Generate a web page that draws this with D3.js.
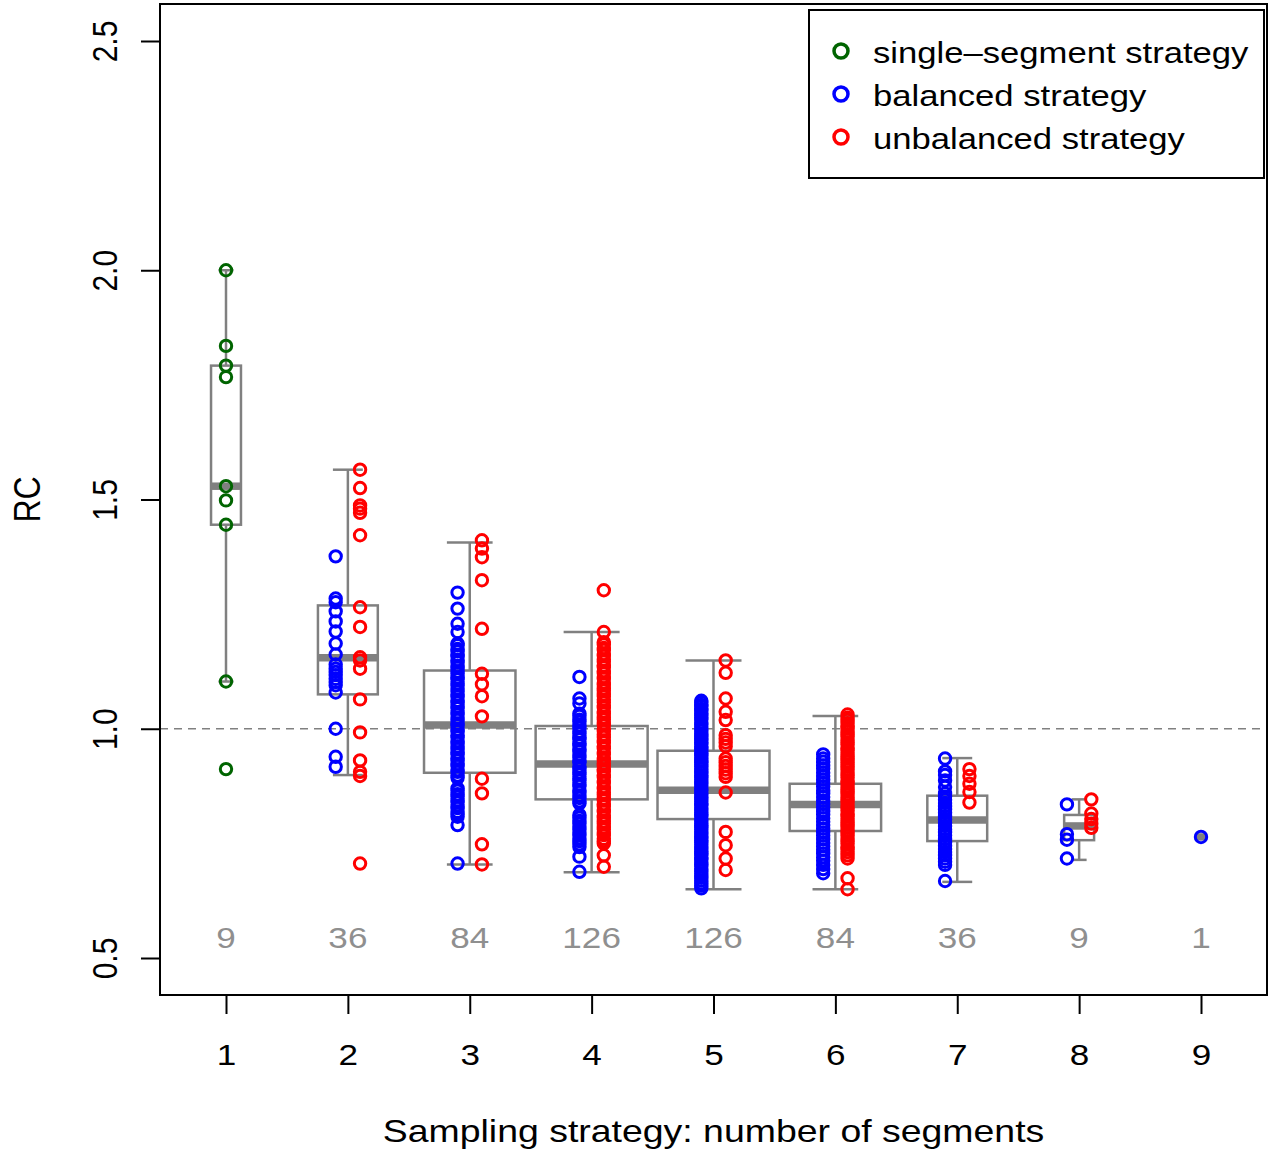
<!DOCTYPE html>
<html>
  <head>
    <meta charset="utf-8" />
    <script src="https://d3js.org/d3.v7.min.js"></script>
    <title>RC by sampling strategy</title>
    <style>
      html, body {
        margin: 0;
        padding: 0;
        background: white;
      }
      svg text {
        font-family: 'Liberation Sans', Arial, Helvetica, sans-serif;
      }
    </style>
  </head>
  <body>
    <div id="chart"></div>

    <script>
      // number of segments on the x axis, and how many strategies each has
      var segments = [1, 2, 3, 4, 5, 6, 7, 8, 9];
      var counts = [9, 36, 84, 126, 126, 84, 36, 9, 1];
      var yTicks = [0.5, 1.0, 1.5, 2.0, 2.5];

      // box statistics: lower whisker, Q1, median, Q3, upper whisker
      var whiskerLow  = [1.103, 0.899, 0.704, 0.687, 0.650, 0.650, 0.666, 0.714, 0.764];
      var boxQ1       = [1.445, 1.075, 0.904, 0.846, 0.803, 0.777, 0.755, 0.757, 0.764];
      var boxMedian   = [1.529, 1.155, 1.008, 0.923, 0.866, 0.835, 0.801, 0.788, 0.764];
      var boxQ3       = [1.792, 1.269, 1.127, 1.006, 0.952, 0.880, 0.854, 0.812, 0.764];
      var whiskerHigh = [2.000, 1.565, 1.406, 1.211, 1.149, 1.028, 0.936, 0.846, 0.764];

      // RC of every strategy, by kind
      var singleRC = [2.000, 1.835, 1.792, 1.767, 1.529, 1.498, 1.445, 1.103, 0.912];

      var balanced2 = [1.376, 1.284, 1.276, 1.256, 1.234, 1.212, 1.186, 1.162, 1.140, 1.131,
        1.124, 1.117, 1.109, 1.102, 1.095, 1.079, 1.000, 0.939, 0.917];
      var unbalanced2 = [1.565, 1.525, 1.487, 1.480, 1.471, 1.422, 1.265, 1.222, 1.156, 1.149,
        1.131, 1.064, 0.992, 0.931, 0.906, 0.897, 0.706];

      var balanced3 = [1.297, 1.262, 1.229, 1.211, 1.186, 1.182, 1.174, 1.169, 1.161, 1.158,
        1.150, 1.145, 1.137, 1.133, 1.125, 1.120, 1.112, 1.108, 1.099, 1.095, 1.087, 1.082,
        1.074, 1.070, 1.061, 1.057, 1.049, 1.045, 1.036, 1.032, 1.024, 1.019, 1.011, 1.007,
        0.998, 0.994, 0.986, 0.981, 0.973, 0.969, 0.961, 0.956, 0.948, 0.944, 0.936, 0.931,
        0.923, 0.919, 0.910, 0.906, 0.898, 0.893, 0.870, 0.865, 0.857, 0.852, 0.844, 0.840,
        0.831, 0.827, 0.819, 0.814, 0.808, 0.790, 0.706];
      var unbalanced3 = [1.411, 1.393, 1.374, 1.324, 1.218, 1.120, 1.097, 1.071, 1.027, 0.891,
        0.859, 0.748, 0.704];

      var balanced4 = [1.113, 1.066, 1.055, 1.033, 1.028, 1.020, 1.015, 1.007, 1.002, 0.994,
        0.989, 0.981, 0.977, 0.968, 0.964, 0.956, 0.951, 0.943, 0.938, 0.930, 0.926, 0.917,
        0.913, 0.905, 0.900, 0.892, 0.887, 0.879, 0.875, 0.866, 0.862, 0.854, 0.849, 0.842,
        0.837, 0.812, 0.806, 0.799, 0.794, 0.786, 0.781, 0.773, 0.768, 0.760, 0.755, 0.748,
        0.742, 0.721, 0.688];
      var unbalanced4 = [1.302, 1.211, 1.189, 1.184, 1.176, 1.172, 1.163, 1.159, 1.151, 1.146,
        1.138, 1.134, 1.126, 1.121, 1.113, 1.109, 1.100, 1.096, 1.088, 1.083, 1.075, 1.071,
        1.063, 1.058, 1.050, 1.046, 1.037, 1.033, 1.025, 1.020, 1.012, 1.008, 0.999, 0.995,
        0.987, 0.982, 0.974, 0.970, 0.962, 0.957, 0.949, 0.945, 0.936, 0.932, 0.924, 0.919,
        0.911, 0.907, 0.899, 0.894, 0.886, 0.882, 0.873, 0.869, 0.861, 0.856, 0.848, 0.844,
        0.836, 0.831, 0.823, 0.819, 0.810, 0.806, 0.798, 0.793, 0.785, 0.781, 0.772, 0.768,
        0.760, 0.755, 0.750, 0.724, 0.699];

      var balanced5 = [1.061, 1.058, 1.052, 1.049, 1.043, 1.040, 1.033, 1.029, 1.024, 1.020,
        1.013, 1.010, 1.004, 0.999, 0.995, 0.988, 0.985, 0.979, 0.976, 0.970, 0.966, 0.960,
        0.957, 0.951, 0.946, 0.942, 0.937, 0.931, 0.928, 0.922, 0.918, 0.913, 0.907, 0.904,
        0.898, 0.894, 0.889, 0.884, 0.880, 0.875, 0.869, 0.866, 0.860, 0.856, 0.851, 0.846,
        0.842, 0.836, 0.833, 0.827, 0.823, 0.818, 0.813, 0.809, 0.803, 0.799, 0.794, 0.789,
        0.785, 0.780, 0.775, 0.771, 0.765, 0.762, 0.756, 0.752, 0.747, 0.742, 0.738, 0.733,
        0.728, 0.724, 0.718, 0.715, 0.709, 0.705, 0.700, 0.694, 0.690, 0.684, 0.679, 0.675,
        0.669, 0.663, 0.658, 0.652];
      var unbalanced5 = [1.149, 1.122, 1.066, 1.037, 1.019, 0.986, 0.978, 0.970, 0.962, 0.935,
        0.927, 0.919, 0.911, 0.903, 0.895, 0.861, 0.775, 0.746, 0.717, 0.692];

      var balanced6 = [0.944, 0.935, 0.928, 0.920, 0.913, 0.904, 0.897, 0.889, 0.882, 0.874,
        0.866, 0.859, 0.851, 0.843, 0.836, 0.828, 0.820, 0.813, 0.805, 0.797, 0.790, 0.782,
        0.774, 0.767, 0.759, 0.751, 0.744, 0.736, 0.728, 0.720, 0.712, 0.703, 0.694, 0.685];
      var unbalanced6 = [1.031, 1.024, 1.019, 1.012, 1.006, 1.001, 0.994, 0.988, 0.983, 0.976,
        0.970, 0.965, 0.958, 0.953, 0.947, 0.940, 0.935, 0.929, 0.922, 0.917, 0.911, 0.904,
        0.899, 0.893, 0.886, 0.881, 0.875, 0.868, 0.863, 0.857, 0.850, 0.845, 0.839, 0.832,
        0.827, 0.821, 0.814, 0.809, 0.803, 0.796, 0.791, 0.785, 0.778, 0.773, 0.767, 0.760,
        0.755, 0.749, 0.742, 0.737, 0.731, 0.724, 0.717, 0.674, 0.650];

      var balanced7 = [0.935, 0.907, 0.899, 0.887, 0.873, 0.859, 0.852, 0.845, 0.838, 0.831,
        0.824, 0.817, 0.809, 0.802, 0.795, 0.788, 0.781, 0.774, 0.767, 0.759, 0.752, 0.745,
        0.738, 0.731, 0.724, 0.717, 0.710, 0.703, 0.668];
      var unbalanced7 = [0.912, 0.897, 0.880, 0.862, 0.839];

      var balanced8 = [0.835, 0.770, 0.758, 0.717];
      var unbalanced8 = [0.846, 0.815, 0.803, 0.793, 0.784];

      var balanced9 = [0.764];

      var legendLabels = ["single\u2013segment strategy", "balanced strategy", "unbalanced strategy"];
      var legendColors = ["#006400", "#0000ff", "#ff0000"];

      var balancedBySeg = [[], balanced2, balanced3, balanced4, balanced5, balanced6, balanced7, balanced8, balanced9];
      var unbalancedBySeg = [[], unbalanced2, unbalanced3, unbalanced4, unbalanced5, unbalanced6, unbalanced7, unbalanced8, []];

      var width = 1274;
      var height = 1151;
      var stretch = 1.17; // the text in the original is a little wider than tall
      var boxGrey = "#808080";

      var svg = d3.select("#chart").append("svg")
        .attr("width", width)
        .attr("height", height);

      var x = d3.scaleLinear().domain([1, 9]).range([226, 1201]);
      var y = d3.scaleLinear().domain([0.5, 2.5]).range([958, 41]);
      var boxW = d3.scaleSqrt().domain([0, 126]).range([0, 112]);

      var plot = { left: 160, top: 4, right: 1267, bottom: 995 };

      // boxes
      var boxes = svg.append("g").attr("class", "boxes");
      segments.forEach(function (s, i) {
        var cx = x(s);
        var w = boxW(counts[i]);
        var g = boxes.append("g")
          .attr("stroke", boxGrey)
          .attr("stroke-width", 2.5)
          .attr("fill", "none");

        g.append("line")
          .attr("x1", cx).attr("x2", cx)
          .attr("y1", y(boxQ3[i])).attr("y2", y(whiskerHigh[i]));
        g.append("line")
          .attr("x1", cx).attr("x2", cx)
          .attr("y1", y(boxQ1[i])).attr("y2", y(whiskerLow[i]));
        g.append("line")
          .attr("x1", cx - w / 4).attr("x2", cx + w / 4)
          .attr("y1", y(whiskerHigh[i])).attr("y2", y(whiskerHigh[i]));
        g.append("line")
          .attr("x1", cx - w / 4).attr("x2", cx + w / 4)
          .attr("y1", y(whiskerLow[i])).attr("y2", y(whiskerLow[i]));
        g.append("rect")
          .attr("x", cx - w / 2)
          .attr("y", y(boxQ3[i]))
          .attr("width", w)
          .attr("height", y(boxQ1[i]) - y(boxQ3[i]));
        g.append("line")
          .attr("x1", cx - w / 2).attr("x2", cx + w / 2)
          .attr("y1", y(boxMedian[i])).attr("y2", y(boxMedian[i]))
          .attr("stroke-width", 7.5);
      });

      // reference line at RC = 1
      svg.append("line")
        .attr("x1", plot.left).attr("x2", plot.right)
        .attr("y1", y(1)).attr("y2", y(1))
        .attr("stroke", boxGrey)
        .attr("stroke-width", 1.5)
        .attr("stroke-dasharray", "8,6");

      // points
      var pts = [];
      singleRC.forEach(function (v) { pts.push({ seg: 1, v: v, kind: 0 }); });
      segments.forEach(function (s, i) {
        var both = unbalancedBySeg[i].length > 0 && balancedBySeg[i].length > 0;
        balancedBySeg[i].forEach(function (v) { pts.push({ seg: both ? s - 0.1 : s, v: v, kind: 1 }); });
        unbalancedBySeg[i].forEach(function (v) { pts.push({ seg: both ? s + 0.1 : s, v: v, kind: 2 }); });
      });

      svg.append("g").selectAll("circle")
        .data(pts)
        .join("circle")
        .attr("cx", function (d) { return x(d.seg); })
        .attr("cy", function (d) { return y(d.v); })
        .attr("r", 5.7)
        .attr("fill", "none")
        .attr("stroke", function (d) { return legendColors[d.kind]; })
        .attr("stroke-width", 3);

      // counts inside the plot
      svg.append("g").selectAll("text")
        .data(counts)
        .join("text")
        .attr("transform", function (d, i) { return "translate(" + x(segments[i]) + ",948) scale(" + stretch + ",1)"; })
        .attr("text-anchor", "middle")
        .attr("font-size", 30)
        .attr("fill", "#8f8f8f")
        .text(function (d) { return d; });

      // frame
      svg.append("rect")
        .attr("x", plot.left)
        .attr("y", plot.top)
        .attr("width", plot.right - plot.left)
        .attr("height", plot.bottom - plot.top)
        .attr("fill", "none")
        .attr("stroke", "black")
        .attr("stroke-width", 2);

      // axes
      var xAxis = svg.append("g")
        .attr("transform", "translate(0," + plot.bottom + ")")
        .call(d3.axisBottom(x).tickValues(segments).tickSize(19).tickSizeOuter(0).tickFormat(d3.format("d")));
      xAxis.select(".domain").remove();
      xAxis.selectAll("line").attr("stroke", "black").attr("stroke-width", 2);
      xAxis.selectAll("text")
        .attr("y", 0).attr("dy", null)
        .attr("transform", "translate(0,70) scale(" + stretch + ",1)")
        .attr("font-size", 30)
        .attr("fill", "black");

      var yAxis = svg.append("g")
        .attr("transform", "translate(" + plot.left + ",0)")
        .call(d3.axisLeft(y).tickValues(yTicks).tickSize(19).tickSizeOuter(0).tickFormat(d3.format(".1f")));
      yAxis.select(".domain").remove();
      yAxis.selectAll("line").attr("stroke", "black").attr("stroke-width", 2);
      yAxis.selectAll("text")
        .attr("x", 0).attr("dy", null)
        .attr("text-anchor", "middle")
        .attr("transform", "translate(-43,0) scale(" + stretch + ",1) rotate(-90)")
        .attr("font-size", 30)
        .attr("fill", "black");
      xAxis.attr("font-family", null);
      yAxis.attr("font-family", null);

      // axis titles
      svg.append("text")
        .attr("transform", "translate(" + (plot.left + plot.right) / 2 + ",1142) scale(" + stretch + ",1)")
        .attr("text-anchor", "middle")
        .attr("font-size", 32)
        .text("Sampling strategy: number of segments");

      svg.append("text")
        .attr("transform", "translate(40," + (plot.top + plot.bottom) / 2 + ") scale(" + stretch + ",1) rotate(-90)")
        .attr("text-anchor", "middle")
        .attr("font-size", 32)
        .text("RC");

      // legend
      var legend = svg.append("g");
      legend.append("rect")
        .attr("x", 809).attr("y", 10)
        .attr("width", 455).attr("height", 168)
        .attr("fill", "white")
        .attr("stroke", "black")
        .attr("stroke-width", 2);
      legendLabels.forEach(function (label, i) {
        var cy = 51 + i * 43;
        legend.append("circle")
          .attr("cx", 841).attr("cy", cy)
          .attr("r", 7)
          .attr("fill", "none")
          .attr("stroke", legendColors[i])
          .attr("stroke-width", 3.5);
        legend.append("text")
          .attr("transform", "translate(873," + (cy + 12) + ") scale(" + 1.155 + ",1)")
          .attr("font-size", 30)
          .text(label);
      });
    </script>
  </body>
</html>
